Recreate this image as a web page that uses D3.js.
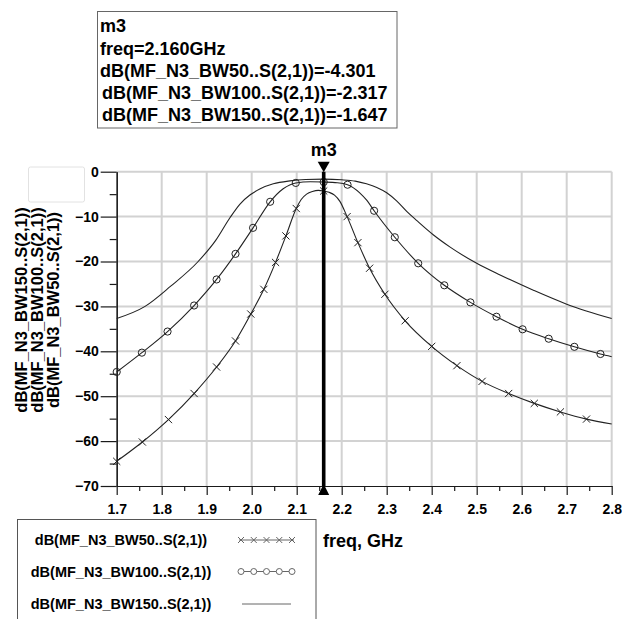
<!DOCTYPE html>
<html>
<head>
<meta charset="utf-8">
<script src="https://cdn.jsdelivr.net/npm/d3@7"></script>
<style>
  html, body { margin: 0; padding: 0; background: #fff; }
  svg { display: block; font-family: "Liberation Sans", Arial, sans-serif; font-weight: bold; }
</style>
</head>
<body>
<svg id="chart" width="622" height="619"></svg>
<script>
// ---------- data ----------
const freqTicks = [1.7, 1.8, 1.9, 2.0, 2.1, 2.2, 2.3, 2.4, 2.5, 2.6, 2.7, 2.8];
const dbTicks = [0, -10, -20, -30, -40, -50, -60, -70];
const markerFreq = 2.16;
const markerName = "m3";

const seriesNames = [
  "dB(MF_N3_BW50..S(2,1))",
  "dB(MF_N3_BW100..S(2,1))",
  "dB(MF_N3_BW150..S(2,1))"
];
const markerValues = [-4.301, -2.317, -1.647];

// BW50 curve (freq GHz, dB)
const bw50Curve = [
  [1.700, -64.5], [1.757, -60.2], [1.815, -55.2], [1.872, -49.4], [1.922, -43.5],
  [1.964, -37.7], [1.998, -31.7], [2.027, -26.2], [2.053, -20.2], [2.076, -14.3],
  [2.099, -8.2], [2.110, -6.2], [2.122, -5.0], [2.135, -4.4], [2.148, -4.15],
  [2.160, -4.3], [2.172, -4.6], [2.184, -5.2], [2.196, -6.6], [2.212, -10.0],
  [2.236, -15.8], [2.262, -21.5], [2.296, -27.3], [2.341, -33.2], [2.400, -38.9],
  [2.456, -43.2], [2.512, -46.7], [2.571, -49.4], [2.628, -51.6], [2.686, -53.5],
  [2.744, -55.1], [2.800, -56.2]
];
const bw50Markers = [
  [1.700, -64.5], [1.757, -60.2], [1.815, -55.2], [1.872, -49.4], [1.922, -43.5],
  [1.964, -37.7], [1.998, -31.7], [2.027, -26.2], [2.053, -20.2], [2.076, -14.3],
  [2.099, -8.2], [2.160, -4.3], [2.212, -10.0], [2.236, -15.8], [2.262, -21.5],
  [2.296, -27.3], [2.341, -33.2], [2.400, -38.9], [2.456, -43.2], [2.512, -46.7],
  [2.571, -49.4], [2.628, -51.6], [2.686, -53.5], [2.744, -55.1]
];

// BW100 curve
const bw100Curve = [
  [1.700, -44.6], [1.756, -40.3], [1.813, -35.6], [1.872, -29.8], [1.922, -24.0],
  [1.964, -18.3], [2.003, -12.5], [2.041, -6.7], [2.070, -3.8], [2.098, -2.5],
  [2.130, -2.25], [2.160, -2.3], [2.190, -2.45], [2.213, -2.9], [2.240, -4.7],
  [2.256, -6.4], [2.272, -8.7], [2.318, -14.6], [2.370, -20.4], [2.428, -25.3],
  [2.486, -29.1], [2.544, -32.3], [2.602, -35.1], [2.660, -37.2], [2.717, -39.0],
  [2.775, -40.6], [2.800, -41.2]
];
const bw100Markers = [
  [1.700, -44.6], [1.756, -40.3], [1.813, -35.6], [1.872, -29.8], [1.922, -24.0],
  [1.964, -18.3], [2.003, -12.5], [2.041, -6.7], [2.098, -2.5], [2.160, -2.3],
  [2.213, -2.9], [2.272, -8.7], [2.318, -14.6], [2.370, -20.4], [2.428, -25.3],
  [2.486, -29.1], [2.544, -32.3], [2.602, -35.1], [2.660, -37.2], [2.717, -39.0],
  [2.775, -40.6]
];

// BW150 curve (no markers)
const bw150Curve = [
  [1.700, -32.7], [1.763, -30.0], [1.820, -25.5], [1.881, -20.0], [1.920, -15.3],
  [1.952, -10.2], [1.974, -7.2], [1.996, -5.2], [2.019, -3.8], [2.048, -2.7],
  [2.085, -2.05], [2.120, -1.75], [2.160, -1.647], [2.200, -1.8], [2.230, -2.1],
  [2.255, -2.7], [2.278, -3.5], [2.300, -4.7], [2.322, -6.5], [2.345, -8.9],
  [2.367, -10.9], [2.404, -14.1], [2.441, -16.8], [2.500, -20.4], [2.552, -23.0],
  [2.626, -26.4], [2.700, -29.5], [2.800, -32.7]
];

// ---------- layout ----------
const svg = d3.select("#chart");
const plot = { left: 116.7, right: 611.7, top: 171.7, bottom: 486 };
const x = d3.scaleLinear().domain([1.7, 2.8]).range([plot.left, plot.right]);
const y = d3.scaleLinear().domain([-70, 0]).range([plot.bottom, plot.top]);
const ink = "#1a1a1a";

// grid
const grid = svg.append("g");
grid.selectAll("line.v").data(freqTicks.slice(1)).join("line")
  .attr("x1", d => x(d)).attr("x2", d => x(d))
  .attr("y1", plot.top).attr("y2", plot.bottom)
  .attr("stroke", "#d2d2d2").attr("stroke-width", 2);
grid.selectAll("line.h").data(dbTicks.slice(0, -1)).join("line")
  .attr("x1", plot.left).attr("x2", plot.right)
  .attr("y1", d => y(d)).attr("y2", d => y(d))
  .attr("stroke", "#d2d2d2").attr("stroke-width", 2);

// axes
const fmtX = d3.format(".1f");
const xAxis = d3.axisBottom(x).tickValues(freqTicks).tickFormat(fmtX).tickSize(9).tickSizeOuter(0).tickPadding(9);
const xMinor = d3.axisBottom(x).tickValues(freqTicks.slice(0, -1).map(d => d + 0.05)).tickFormat("").tickSize(5).tickSizeOuter(0);
const yAxis = d3.axisLeft(y).tickValues(dbTicks).tickFormat(d3.format("d")).tickSize(16).tickSizeOuter(0).tickPadding(2);
const yMinor = d3.axisLeft(y).tickValues(dbTicks.slice(0, -1).map(d => d - 5)).tickFormat("").tickSize(7).tickSizeOuter(0);

function styleAxis(g) {
  g.selectAll("path").attr("stroke", ink).attr("stroke-width", 1.2);
  g.selectAll("line").attr("stroke", ink).attr("stroke-width", 1.2);
  g.selectAll("text").attr("fill", "#000").style("font-size", "14px").style("font-weight", "bold")
    .style("font-family", "'Liberation Sans', Arial, sans-serif");
}
svg.append("g").attr("transform", `translate(0,${plot.bottom})`).call(xMinor).call(styleAxis);
svg.append("g").attr("transform", `translate(0,${plot.bottom})`).call(xAxis).call(styleAxis);
svg.append("g").attr("transform", `translate(${plot.left},0)`).call(yMinor).call(styleAxis);
svg.append("g").attr("transform", `translate(${plot.left},0)`).call(yAxis).call(styleAxis);

// curves
const line = d3.line().x(d => x(d[0])).y(d => y(d[1])).curve(d3.curveMonotoneX);
[bw50Curve, bw100Curve, bw150Curve].forEach(c => {
  svg.append("path").datum(c).attr("d", line)
    .attr("fill", "none").attr("stroke", "#222").attr("stroke-width", 1.1);
});

// markers
function crossPath(cx, cy, s) {
  return `M${cx - s},${cy - s}L${cx + s},${cy + s}M${cx - s},${cy + s}L${cx + s},${cy - s}`;
}
svg.append("g").selectAll("path").data(bw50Markers).join("path")
  .attr("d", d => crossPath(x(d[0]), y(d[1]), 3.6))
  .attr("stroke", "#222").attr("stroke-width", 1).attr("fill", "none");
svg.append("g").selectAll("circle").data(bw100Markers).join("circle")
  .attr("cx", d => x(d[0])).attr("cy", d => y(d[1])).attr("r", 3.6)
  .attr("stroke", "#222").attr("stroke-width", 1).attr("fill", "none");

// m3 marker line
const mx = x(markerFreq);
svg.append("line").attr("x1", mx).attr("x2", mx).attr("y1", plot.top).attr("y2", plot.bottom)
  .attr("stroke", "#000").attr("stroke-width", 3.6);
svg.append("path").attr("d", `M${mx - 6},${plot.top - 10}L${mx + 6},${plot.top - 10}L${mx},${plot.top + 0.5}Z`).attr("fill", "#000");
svg.append("path").attr("d", `M${mx - 5.5},${plot.bottom + 9}L${mx + 5.5},${plot.bottom + 9}L${mx},${plot.bottom - 2}Z`).attr("fill", "#000");
svg.append("text").attr("x", mx).attr("y", 156).attr("text-anchor", "middle")
  .style("font-size", "18px").text(markerName);

// annotation box
svg.append("rect").attr("x", 97.5).attr("y", 11.5).attr("width", 299.5).attr("height", 116.5)
  .attr("fill", "#fff").attr("stroke", "#666").attr("stroke-width", 1);
const annLines = [markerName, `freq=${markerFreq.toFixed(3)}GHz`]
  .concat(seriesNames.map((n, i) => `${n}=${markerValues[i].toFixed(3)}`));
const annX = [100, 100, 100, 102, 102];
const annY = [32, 55, 77, 99, 121];
svg.append("g").selectAll("text").data(annLines).join("text")
  .attr("x", (d, i) => annX[i]).attr("y", (d, i) => annY[i])
  .style("font-size", "18px").text(d => d);

// small empty box top-left
svg.append("rect").attr("x", 28.5).attr("y", 167).attr("width", 56).attr("height", 35).attr("rx", 2)
  .attr("fill", "none").attr("stroke", "#e2e2e2").attr("stroke-width", 1);

// y-axis labels (rotated, three lines)
const yLabelOrder = [2, 1, 0];
const yLabelX = [27, 43, 58.5];
svg.append("g").selectAll("text").data(yLabelOrder).join("text")
  .attr("transform", (d, i) => `translate(${yLabelX[i]},310) rotate(-90)`)
  .attr("text-anchor", "middle").style("font-size", "16.5px").text(d => seriesNames[d]);

// x-axis title
svg.append("text").attr("x", 323).attr("y", 547).style("font-size", "18px").text("freq, GHz");

// legend
svg.append("rect").attr("x", 17.5).attr("y", 519.5).attr("width", 298.5).attr("height", 120)
  .attr("fill", "#fff").attr("stroke", "#555").attr("stroke-width", 1);
const legY = [540, 571.5, 604];
const legTextX = 121;
const sampleX0 = 239, sampleX1 = 294;
seriesNames.forEach((n, i) => {
  svg.append("text").attr("x", legTextX).attr("y", legY[i] + 5).attr("text-anchor", "middle")
    .style("font-size", "14.5px").text(n);
  svg.append("line").attr("x1", i === 2 ? sampleX0 + 3 : sampleX0).attr("x2", i === 2 ? sampleX1 - 3 : sampleX1)
    .attr("y1", legY[i]).attr("y2", legY[i])
    .attr("stroke", "#666").attr("stroke-width", 1);
  const pts = d3.range(5).map(k => sampleX0 + 2 + k * (sampleX1 - sampleX0 - 4) / 4);
  if (i === 0) {
    svg.append("g").selectAll("path").data(pts).join("path")
      .attr("d", p => crossPath(p, legY[i], 3)).attr("stroke", "#666").attr("stroke-width", 1);
  } else if (i === 1) {
    svg.append("g").selectAll("circle").data(pts).join("circle")
      .attr("cx", p => p).attr("cy", legY[i]).attr("r", 3)
      .attr("fill", "#fff").attr("stroke", "#666").attr("stroke-width", 1);
  }
});
</script>
</body>
</html>
